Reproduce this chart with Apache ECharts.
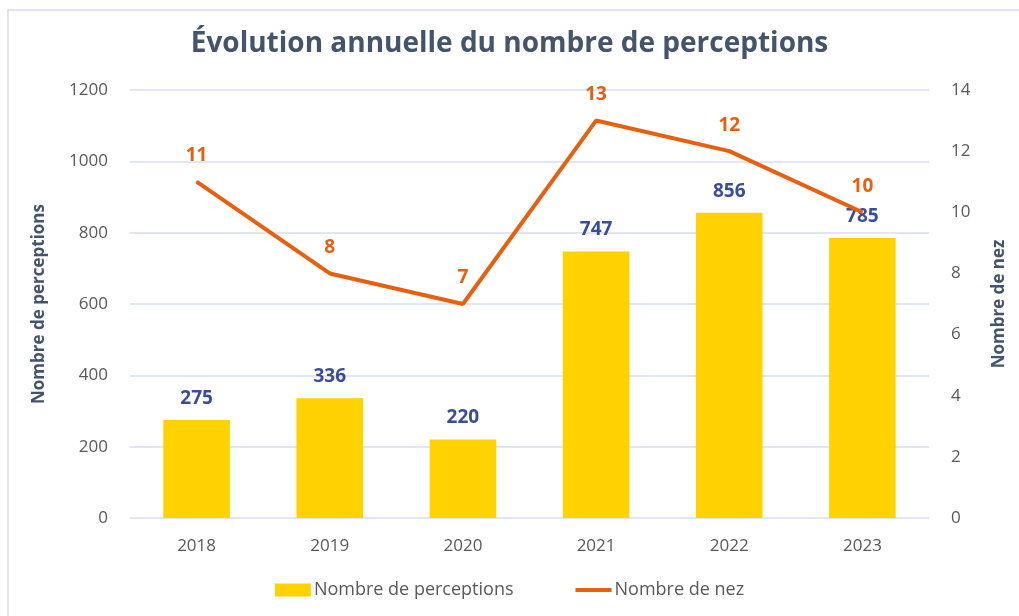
<!DOCTYPE html>
<html>
<head>
<meta charset="utf-8">
<script src="https://cdn.jsdelivr.net/npm/echarts@6/dist/echarts.min.js"></script>
<style>
  html, body { margin: 0; padding: 0; background: #fff; }
  #chart { width: 1019px; height: 616px; }
</style>
</head>
<body>
<div id="chart"></div>
<script>
// données
var years = ['2018', '2019', '2020', '2021', '2022', '2023']
var perceptions = [275, 336, 220, 747, 856, 785]
var nez = [11, 8, 7, 13, 12, 10]

var myChart = echarts.init(document.getElementById('chart'))
var font = '"Open Sans", "Noto Sans", sans-serif'

var option = {
  textStyle: { fontFamily: font },
  graphic: [
    {
      type: 'rect',
      shape: { x: 8, y: 10, width: 1030, height: 640 },
      style: { fill: 'none', stroke: '#d9dcef', lineWidth: 1.5 },
      silent: true
    }
  ],
  title: {
    text: 'Évolution annuelle du nombre de perceptions',
    left: 'center',
    top: 25,
    textStyle: { color: '#44546a', fontSize: 28, fontWeight: 'bold', fontFamily: font }
  },
  legend: {
    bottom: 12,
    left: 'center',
    itemGap: 60,
    itemWidth: 36,
    itemHeight: 13,
    textStyle: { color: '#595959', fontSize: 18, fontFamily: font, padding: [0, 0, 0, -2] },
    data: [
      { name: 'Nombre de perceptions', icon: 'rect' },
      { name: 'Nombre de nez', itemStyle: { opacity: 0 }, lineStyle: { width: 4 } }
    ]
  },
  grid: {
    left: 130,
    right: 90,
    top: 90,
    bottom: 98,
    containLabel: false
  },
  xAxis: {
    type: 'category',
    data: years,
    axisLine: { show: false },
    axisTick: { show: false },
    axisLabel: { color: '#595959', fontSize: 17, margin: 20, fontFamily: font }
  },
  yAxis: [
    {
      type: 'value',
      min: 0,
      max: 1200,
      interval: 200,
      name: 'Nombre de perceptions',
      nameLocation: 'middle',
      nameGap: 82,
      nameTextStyle: { color: '#44546a', fontSize: 17, fontWeight: 'bold', fontFamily: font },
      axisLabel: {
        color: '#595959', fontSize: 17, margin: 22, fontFamily: font,
        formatter: function (v) { return String(v) }
      },
      axisLine: { show: false },
      axisTick: { show: false },
      splitLine: { lineStyle: { color: '#d9dcef', width: 1.5 } }
    },
    {
      type: 'value',
      min: 0,
      max: 14,
      interval: 2,
      name: 'Nombre de nez',
      nameLocation: 'middle',
      nameGap: 62,
      nameRotate: 90,
      nameTextStyle: { color: '#44546a', fontSize: 17, fontWeight: 'bold', fontFamily: font },
      axisLabel: { color: '#595959', fontSize: 17, margin: 22, fontFamily: font },
      axisLine: { show: false },
      axisTick: { show: false },
      splitLine: { show: false }
    }
  ],
  series: [
    {
      name: 'Nombre de perceptions',
      type: 'bar',
      yAxisIndex: 0,
      barWidth: '50%',
      itemStyle: { color: '#ffd200' },
      label: {
        show: true,
        position: 'top',
        distance: 12,
        color: '#3a4d9c',
        fontSize: 19,
        fontWeight: 'bold',
        fontFamily: font
      },
      data: perceptions
    },
    {
      name: 'Nombre de nez',
      type: 'line',
      yAxisIndex: 1,
      symbol: 'circle',
      symbolSize: 1,
      showSymbol: true,
      z: 3,
      lineStyle: { color: '#e8600e', width: 4 },
      itemStyle: { color: '#e8600e' },
      label: {
        show: true,
        position: 'top',
        distance: 16,
        color: '#e8600e',
        fontSize: 19,
        fontWeight: 'bold',
        fontFamily: font
      },
      data: nez
    }
  ]
}

option && myChart.setOption(option)
window.addEventListener('resize', function () {
  myChart.resize()
})
</script>
</body>
</html>
